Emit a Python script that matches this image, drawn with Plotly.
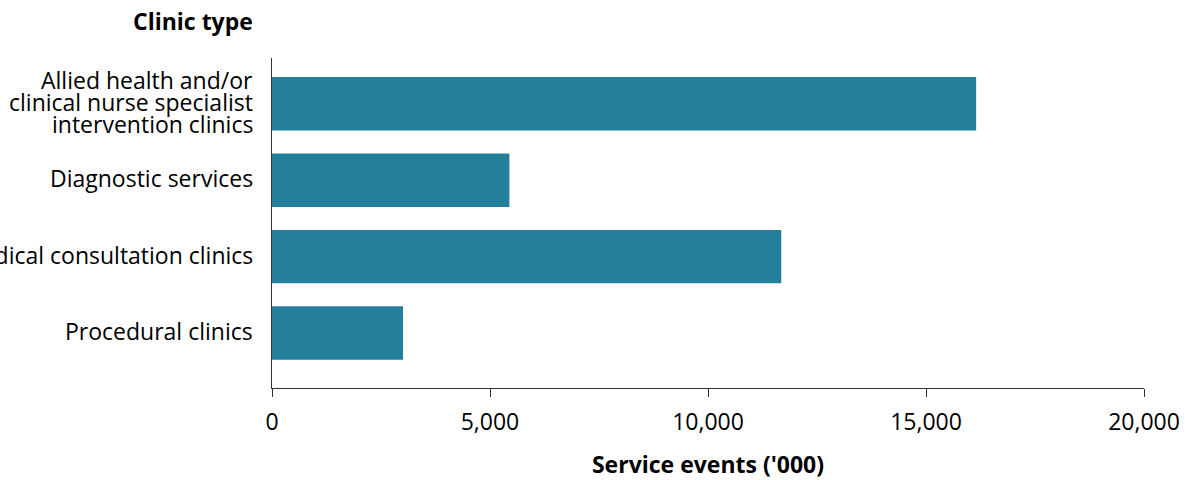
import plotly.graph_objects as go

# Outpatient service events by clinic type ('000)
clinic_types = [
    "Procedural clinics",
    "Medical consultation clinics",
    "Diagnostic services",
    "Allied health and/or clinical nurse specialist intervention clinics",
]
# Category labels as they are wrapped beside the axis
clinic_label_lines = [
    ["Procedural clinics"],
    ["Medical consultation clinics"],
    ["Diagnostic services"],
    ["Allied health and/or", "clinical nurse specialist", "intervention clinics"],
]
service_events = [3005, 11680, 5445, 16150]

x_ticks = [0, 5000, 10000, 15000, 20000]
x_tick_labels = ["0", "5,000", "10,000", "15,000", "20,000"]

font_family = "Open Sans, Noto Sans, sans-serif"
bar_colour = "#24809a"
axis_colour = "#333333"
label_size = 23
line_gap = 21.7

fig = go.Figure(
    go.Bar(
        x=service_events,
        y=list(range(len(clinic_types))),
        orientation="h",
        marker=dict(color=bar_colour, line=dict(width=0)),
        width=0.7,
        customdata=clinic_types,
        hovertemplate="%{customdata}: %{x:,}<extra></extra>",
    )
)

fig.update_layout(
    width=1189,
    height=480,
    margin=dict(l=272, r=45, t=58, b=92),
    paper_bgcolor="white",
    plot_bgcolor="white",
    font=dict(family=font_family, size=label_size, color="#000000"),
    showlegend=False,
)

fig.update_xaxes(
    range=[0, 20000],
    tickvals=x_ticks,
    ticktext=x_tick_labels,
    showgrid=False,
    zeroline=False,
    showline=True,
    linecolor=axis_colour,
    linewidth=1,
    ticks="outside",
    ticklen=8,
    tickcolor=axis_colour,
    tickfont=dict(size=label_size),
    ticklabelstandoff=5,
    automargin=False,
    title=dict(
        text="<b>Service events ('000)</b>",
        font=dict(size=label_size),
        standoff=21,
    ),
)

fig.update_yaxes(
    range=[-0.72, 3.6],
    tickvals=list(range(len(clinic_types))),
    showticklabels=False,
    showgrid=False,
    zeroline=False,
    showline=True,
    linecolor=axis_colour,
    linewidth=1,
    ticks="",
    automargin=False,
)

# Category labels, right-aligned against the axis, one annotation per line
for i, lines in enumerate(clinic_label_lines):
    mid = (len(lines) - 1) / 2
    for j, line in enumerate(lines):
        fig.add_annotation(
            text=line,
            xref="paper",
            yref="y",
            x=0,
            y=i,
            xanchor="right",
            yanchor="middle",
            xshift=-17,
            yshift=(mid - j) * line_gap + 2,
            showarrow=False,
            font=dict(size=label_size),
        )

fig.add_annotation(
    text="<b>Clinic type</b>",
    xref="paper",
    yref="paper",
    x=0,
    y=1,
    xanchor="right",
    yanchor="middle",
    xshift=-17,
    yshift=37,
    showarrow=False,
    font=dict(size=label_size),
)

fig.write_html("out.html")
